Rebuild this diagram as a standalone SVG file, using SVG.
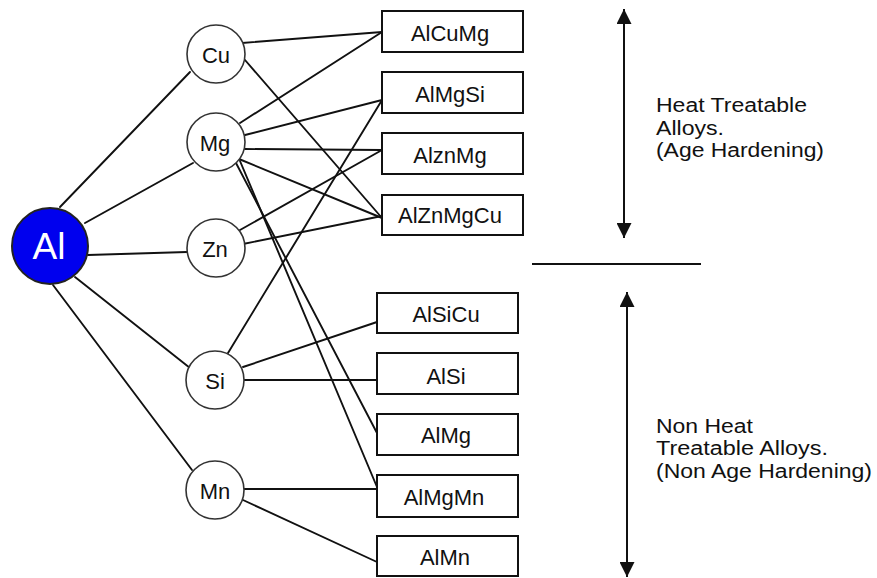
<svg xmlns="http://www.w3.org/2000/svg" width="877" height="578" viewBox="0 0 877 578">
  <defs>
    <style>
      .lbl { font-family: "Liberation Sans", Arial, sans-serif; font-size: 22px; fill: #111; text-anchor: middle; }
      .note { font-family: "Liberation Sans", Arial, sans-serif; font-size: 20px; fill: #111; }
      .elem { fill: #fff; stroke: #333; stroke-width: 1.6; }
      .alloy { fill: #fff; stroke: #111; stroke-width: 2; }
      .edge { stroke: #111; stroke-width: 1.9; fill: none; stroke-linecap: round; }
      .axis { stroke: #111; stroke-width: 2; fill: none; }
    </style>
    <marker id="head" viewBox="0 0 15 15" refX="15" refY="7.5" markerWidth="15" markerHeight="15" markerUnits="userSpaceOnUse" orient="auto-start-reverse">
      <path d="M0,0 L15,7.5 L0,15 z" fill="#111"/>
    </marker>
  </defs>

  <rect width="877" height="578" fill="#fff"/>

  <!-- connectors -->
  <g id="connectors" class="edge">
    <!-- Al to alloying elements -->
    <path d="M60 207 L190 72"/>
    <path d="M85 223 L193 163"/>
    <path d="M88 255 L187 252"/>
    <path d="M75 277 L190 368"/>
    <path d="M53 285 L192 470"/>
    <!-- Cu -->
    <path d="M242 43 L382 32"/>
    <path d="M245 60 L382 218"/>
    <!-- Mg -->
    <path d="M240 123 L382 32"/>
    <path d="M245 135 L382 100"/>
    <path d="M245 149 L382 150"/>
    <path d="M239 159 L382 218"/>
    <path d="M236 163 L377 433"/>
    <path d="M240 161 L377 487"/>
    <!-- Zn -->
    <path d="M240 230 L382 150"/>
    <path d="M243 244 L382 216"/>
    <!-- Si -->
    <path d="M228 353 L382 100"/>
    <path d="M243 367 L377 322"/>
    <path d="M244 380 L377 380"/>
    <!-- Mn -->
    <path d="M244 489 L377 489"/>
    <path d="M243 500 L377 562"/>
  </g>

  <!-- base metal -->
  <g id="node-Al">
    <circle cx="50" cy="246" r="38" fill="#0000ee" stroke="#222" stroke-width="2"/>
    <text x="49" y="259" class="lbl" style="font-size:37px;fill:#fff">Al</text>
  </g>

  <!-- alloying elements -->
  <g id="node-Cu"><circle class="elem" cx="216" cy="54" r="29"/><text class="lbl" x="216" y="63">Cu</text></g>
  <g id="node-Mg"><circle class="elem" cx="216" cy="142" r="29"/><text class="lbl" x="215" y="151">Mg</text></g>
  <g id="node-Zn"><circle class="elem" cx="216" cy="248" r="29"/><text class="lbl" x="215" y="257">Zn</text></g>
  <g id="node-Si"><circle class="elem" cx="215" cy="380" r="29"/><text class="lbl" x="215" y="389">Si</text></g>
  <g id="node-Mn"><circle class="elem" cx="215" cy="490" r="29"/><text class="lbl" x="215" y="499">Mn</text></g>

  <!-- heat treatable alloys -->
  <g id="node-AlCuMg"><rect class="alloy" x="382" y="11" width="141" height="41"/><text class="lbl" x="450" y="41">AlCuMg</text></g>
  <g id="node-AlMgSi"><rect class="alloy" x="382" y="72" width="141" height="41"/><text class="lbl" x="450" y="102">AlMgSi</text></g>
  <g id="node-AlznMg"><rect class="alloy" x="382" y="133" width="141" height="41"/><text class="lbl" x="450" y="163">AlznMg</text></g>
  <g id="node-AlZnMgCu"><rect class="alloy" x="382" y="195" width="141" height="40"/><text class="lbl" x="450" y="223">AlZnMgCu</text></g>

  <!-- non heat treatable alloys -->
  <g id="node-AlSiCu"><rect class="alloy" x="377" y="293" width="141" height="40"/><text class="lbl" x="446" y="322">AlSiCu</text></g>
  <g id="node-AlSi"><rect class="alloy" x="377" y="353" width="141" height="41"/><text class="lbl" x="446" y="384">AlSi</text></g>
  <g id="node-AlMg"><rect class="alloy" x="377" y="414" width="141" height="41"/><text class="lbl" x="446" y="443">AlMg</text></g>
  <g id="node-AlMgMn"><rect class="alloy" x="377" y="475" width="141" height="42"/><text class="lbl" x="444" y="505">AlMgMn</text></g>
  <g id="node-AlMn"><rect class="alloy" x="377" y="536" width="141" height="40"/><text class="lbl" x="445" y="565">AlMn</text></g>

  <!-- classification ranges -->
  <g id="range-heat">
    <path class="axis" d="M624 9 L624 238" marker-start="url(#head)" marker-end="url(#head)"/>
    <text class="note" x="656" y="112" textLength="151" lengthAdjust="spacingAndGlyphs">Heat Treatable</text>
    <text class="note" x="656" y="134.5" textLength="68" lengthAdjust="spacingAndGlyphs">Alloys.</text>
    <text class="note" x="656" y="157" textLength="168" lengthAdjust="spacingAndGlyphs">(Age Hardening)</text>
  </g>
  <path id="divider" class="axis" d="M532 264 L701 264"/>
  <g id="range-nonheat">
    <path class="axis" d="M627 292 L627 577" marker-start="url(#head)" marker-end="url(#head)"/>
    <text class="note" x="656" y="432.5" textLength="97" lengthAdjust="spacingAndGlyphs">Non Heat</text>
    <text class="note" x="656" y="455" textLength="172" lengthAdjust="spacingAndGlyphs">Treatable Alloys.</text>
    <text class="note" x="656" y="477.5" textLength="216" lengthAdjust="spacingAndGlyphs">(Non Age Hardening)</text>
  </g>
</svg>
